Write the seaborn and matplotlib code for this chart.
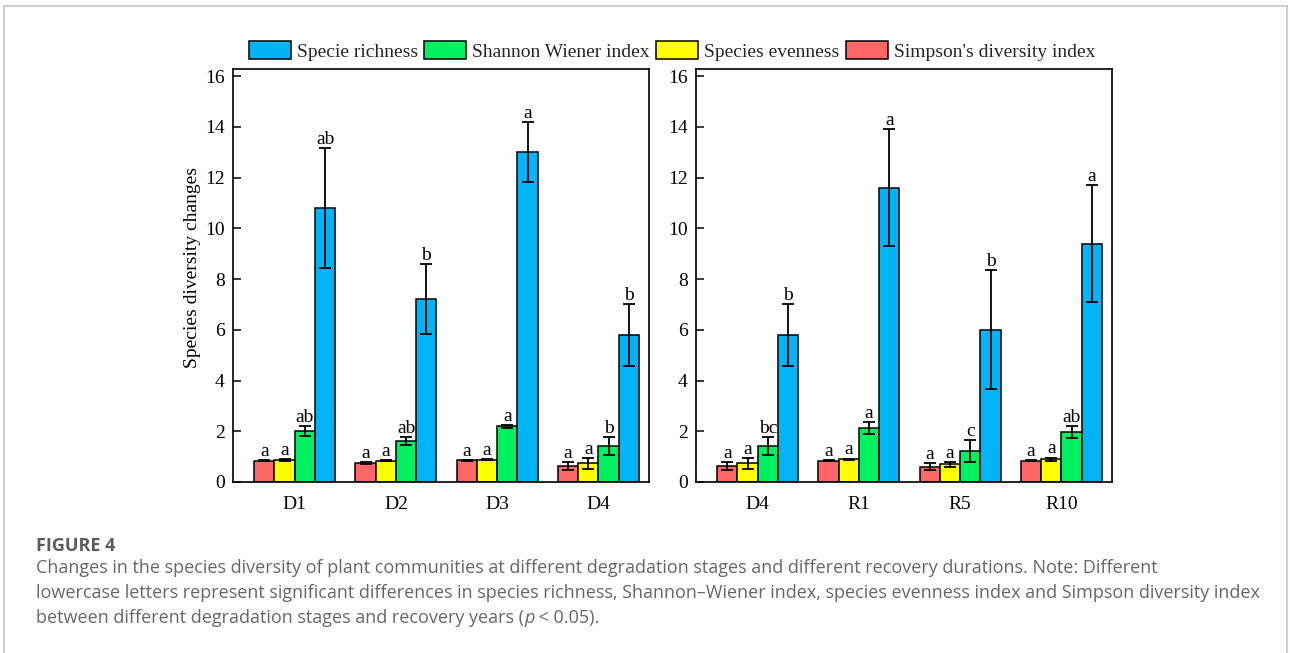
import numpy as np
import pandas as pd
import matplotlib
matplotlib.use("Agg")
import matplotlib.pyplot as plt
from matplotlib.patches import Rectangle
import seaborn as sns

# ---- data -------------------------------------------------------------
stages_degradation = ["D1", "D2", "D3", "D4"]
stages_recovery = ["D4", "R1", "R5", "R10"]

index_names = ["Simpson's diversity index", "Species evenness",
               "Shannon Wiener index", "Specie richness"]
legend_order = ["Specie richness", "Shannon Wiener index",
                "Species evenness", "Simpson's diversity index"]
index_colors = ["#FF6666", "#FFFF00", "#00F060", "#00B4F5"]

# degradation stages (means, standard deviations, significance letters)
simpson_deg = [0.84, 0.75, 0.85, 0.64]
simpson_deg_sd = [0.03, 0.03, 0.01, 0.15]
evenness_deg = [0.87, 0.84, 0.87, 0.73]
evenness_deg_sd = [0.03, 0.02, 0.02, 0.20]
shannon_deg = [2.02, 1.60, 2.20, 1.42]
shannon_deg_sd = [0.20, 0.16, 0.06, 0.36]
richness_deg = [10.8, 7.2, 13.0, 5.8]
richness_deg_sd = [2.35, 1.38, 1.18, 1.22]
letters_simpson_deg = ["a", "a", "a", "a"]
letters_evenness_deg = ["a", "a", "a", "a"]
letters_shannon_deg = ["ab", "ab", "a", "b"]
letters_richness_deg = ["ab", "b", "a", "b"]

# recovery durations
simpson_rec = [0.64, 0.84, 0.60, 0.83]
simpson_rec_sd = [0.15, 0.03, 0.13, 0.02]
evenness_rec = [0.73, 0.89, 0.70, 0.90]
evenness_rec_sd = [0.20, 0.03, 0.10, 0.06]
shannon_rec = [1.42, 2.13, 1.21, 1.96]
shannon_rec_sd = [0.36, 0.24, 0.43, 0.23]
richness_rec = [5.8, 11.6, 6.0, 9.4]
richness_rec_sd = [1.22, 2.30, 2.35, 2.30]
letters_simpson_rec = ["a", "a", "a", "a"]
letters_evenness_rec = ["a", "a", "a", "a"]
letters_shannon_rec = ["bc", "a", "c", "ab"]
letters_richness_rec = ["b", "a", "b", "a"]

y_ticks = [0, 2, 4, 6, 8, 10, 12, 14, 16]

# ---- style ------------------------------------------------------------
sns.set_theme(style="white")
plt.rcParams["font.family"] = ["Liberation Serif", "DejaVu Serif"]
plt.rcParams["axes.edgecolor"] = "black"
plt.rcParams["axes.linewidth"] = 1.2

W, H = 1290, 653
fig = plt.figure(figsize=(W / 100, H / 100), dpi=100)
fig.patch.set_facecolor("white")

FS = 14
palette = dict(zip(index_names, index_colors))


def draw_panel(ax, stages, means, sds, letters):
    rows = []
    for name, vals in zip(index_names, means):
        for st, v in zip(stages, vals):
            rows.append({"stage": st, "index": name, "value": v})
    df = pd.DataFrame(rows)
    sns.barplot(data=df, x="stage", y="value", hue="index",
                order=stages, hue_order=index_names, palette=palette,
                saturation=1, edgecolor="black", linewidth=1.1,
                errorbar=None, width=0.8, legend=False, ax=ax)
    for cont, sd_list, lab_list in zip(ax.containers, sds, letters):
        for bar, sd, lab in zip(cont, sd_list, lab_list):
            xc = bar.get_x() + bar.get_width() / 2
            h = bar.get_height()
            ax.errorbar(xc, h, yerr=sd, fmt="none", ecolor="black",
                        elinewidth=1.3, capsize=4.5, capthick=1.3, zorder=5)
            ax.annotate(lab, (xc, h + sd), xytext=(0, 3),
                        textcoords="offset points", ha="center",
                        va="baseline", fontsize=FS, color="black")
    ax.set_xlim(-0.61, 3.5)
    ax.set_ylim(0, 16.28)
    ax.set_yticks(y_ticks)
    ax.set_xlabel("")
    ax.set_ylabel("")
    ax.tick_params(axis="y", direction="in", length=6, width=1.1,
                   left=True, right=False, pad=6, labelsize=FS,
                   colors="black")
    ax.tick_params(axis="x", bottom=False, top=False, pad=4,
                   labelsize=FS, colors="black")
    for sp in ax.spines.values():
        sp.set_visible(True)
        sp.set_color("black")
        sp.set_linewidth(1.2)


ax1 = fig.add_axes([233 / W, 1 - 482 / H, 416 / W, 413 / H])
ax2 = fig.add_axes([696 / W, 1 - 482 / H, 416 / W, 413 / H])

draw_panel(ax1, stages_degradation,
           [simpson_deg, evenness_deg, shannon_deg, richness_deg],
           [simpson_deg_sd, evenness_deg_sd, shannon_deg_sd, richness_deg_sd],
           [letters_simpson_deg, letters_evenness_deg,
            letters_shannon_deg, letters_richness_deg])
draw_panel(ax2, stages_recovery,
           [simpson_rec, evenness_rec, shannon_rec, richness_rec],
           [simpson_rec_sd, evenness_rec_sd, shannon_rec_sd, richness_rec_sd],
           [letters_simpson_rec, letters_evenness_rec,
            letters_shannon_rec, letters_richness_rec])

ax1.set_ylabel("Species diversity changes", fontsize=FS, labelpad=3,
               color="black", y=0.52)

# shared legend across the top
handles = []
for name in legend_order:
    k = index_names.index(name)
    handles.append(ax1.containers[k][0])
fig.legend(handles, legend_order, loc="center",
           bbox_to_anchor=(672 / W, 1 - 51 / H), ncol=4, frameon=False,
           fontsize=FS, handlelength=2.15, handleheight=1.05,
           handletextpad=0.3, columnspacing=0.35, borderaxespad=0)

# ---- caption ----------------------------------------------------------
cap_color = "#666666"
cap_font = ["Open Sans", "DejaVu Sans"]
CAP_FS = 13.0
fig.text(36 / W, 1 - 546 / H, "FIGURE 4", fontsize=13, fontweight="bold",
         color="#5a5a5a", family=cap_font, va="center", ha="left")
cap_lines = [
    "Changes in the species diversity of plant communities at different "
    "degradation stages and different recovery durations. Note: Different",
    "lowercase letters represent significant differences in species "
    "richness, Shannon\u2013Wiener index, species evenness index and "
    "Simpson diversity index",
]
cap_y = [568, 593]
for line, y in zip(cap_lines, cap_y):
    fig.text(36 / W, 1 - y / H, line, fontsize=CAP_FS, color=cap_color,
             family=cap_font, va="center", ha="left")

renderer = fig.canvas.get_renderer()
x_px = 36
for piece, style in [("between different degradation stages and recovery "
                      "years (", "normal"), ("p", "italic"),
                     (" < 0.05).", "normal")]:
    t = fig.text(x_px / W, 1 - 618 / H, piece, fontsize=CAP_FS,
                 color=cap_color, family=cap_font, style=style,
                 va="center", ha="left")
    bb = t.get_window_extent(renderer)
    x_px += bb.width

# outer frame of the figure panel
fig.patches.append(Rectangle((4 / W, -0.05), 1283 / W, 0.05 + 1 - 6 / H,
                             transform=fig.transFigure, fill=False,
                             edgecolor="#cfcfcf", linewidth=1.5))

fig.savefig("out.png", dpi=100, facecolor="white")
